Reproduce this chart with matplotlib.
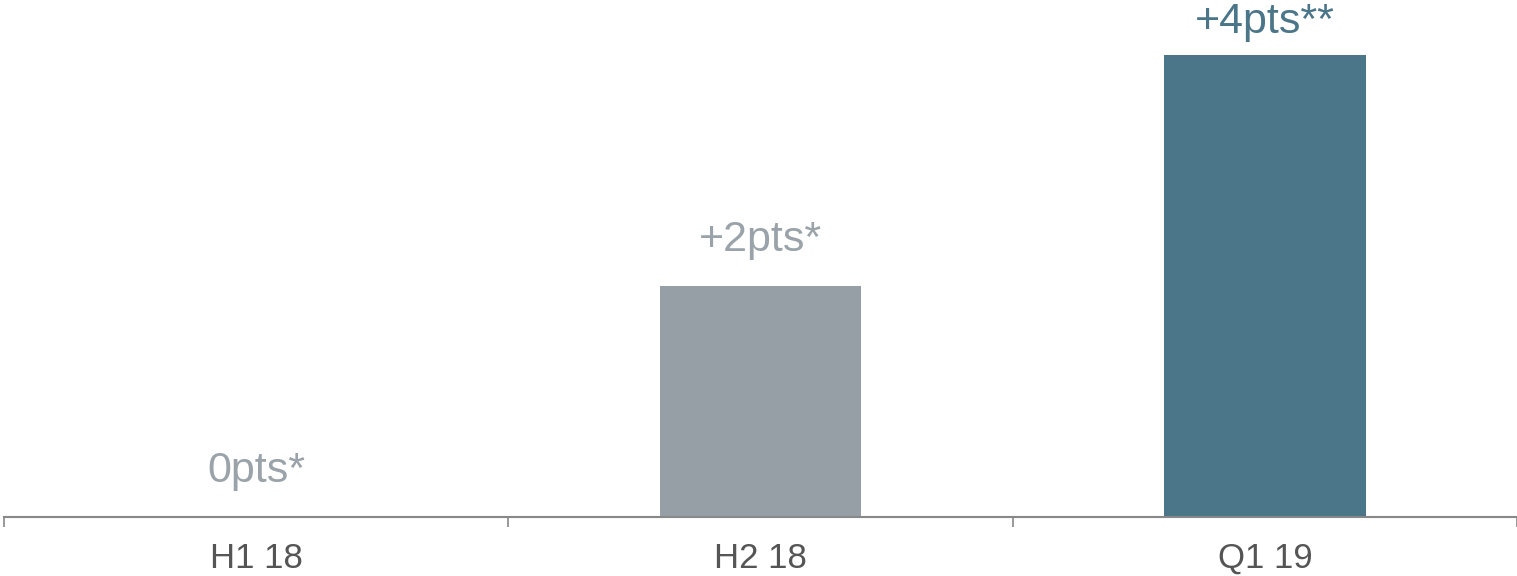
import matplotlib.pyplot as plt

plt.rcParams['font.family'] = ['Liberation Sans', 'DejaVu Sans']

# Periodos y variacion en puntos
periodos = ["H1 18", "H2 18", "Q1 19"]
valores = [0, 2, 4]
etiquetas = ["0pts*", "+2pts*", "+4pts**"]
colores = ["#969fa6", "#969fa6", "#4b7589"]
colores_txt = ["#9aa3a9", "#9aa3a9", "#4b7589"]

fig = plt.figure(figsize=(15.17, 5.76), dpi=100)
ax = fig.add_axes([4 / 1517, 59 / 576, 1 - 4 / 1517, 1 - 59 / 576])

x = range(len(periodos))
barras = ax.bar(x, valores, width=0.4, color=colores)

ax.set_xlim(-0.5, len(periodos) - 0.5)
ax.set_ylim(0, 517 / 115.5)

# etiquetas sobre las barras, bajadas si no caben arriba
fig.canvas.draw()
alto_fig = fig.bbox.height
for b, v, txt, c in zip(barras, valores, etiquetas, colores_txt):
    y_px = ax.transData.transform((0, v))[1]
    libre = alto_fig - y_px - 33
    desp = min(25, libre * 72 / fig.dpi)
    ax.annotate(txt, (b.get_x() + b.get_width() / 2, v),
                xytext=(0, desp), textcoords="offset points",
                ha="center", va="baseline", fontsize=31, color=c,
                annotation_clip=False)

ax.set_xticks(list(x))
ax.set_xticklabels(periodos, fontsize=25, color="#555555")
ax.tick_params(axis="x", which="major", length=0, pad=18)
ax.set_xticks([i - 0.5 for i in range(len(periodos) + 1)], minor=True)
ax.tick_params(axis="x", which="minor", length=7.5, width=1.2, color="#888888")
ax.set_yticks([])

for lado in ["top", "right", "left"]:
    ax.spines[lado].set_visible(False)
ax.spines["bottom"].set_color("#888888")
ax.spines["bottom"].set_linewidth(1.5)

fig.savefig("out.png", dpi=100)
